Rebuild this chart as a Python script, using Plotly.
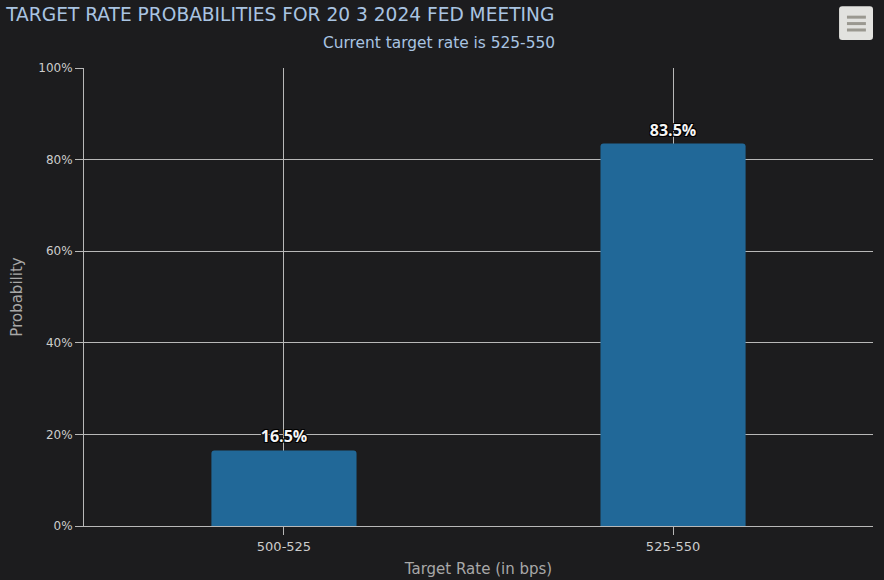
import plotly.graph_objects as go

categories = ["500-525", "525-550"]
probabilities = [16.5, 83.5]
bar_labels = ["16.5%", "83.5%"]
y_ticks = [0, 20, 40, 60, 80, 100]
y_tick_labels = ["0%", "20%", "40%", "60%", "80%", "100%"]

BG = "#1c1c1e"
GRID = "#b8b8b8"
FONT = "DejaVu Sans"

fig = go.Figure()
fig.add_trace(go.Bar(
    x=categories, y=probabilities, text=bar_labels,
    textposition="outside", cliponaxis=False,
    marker=dict(color="#216898", line=dict(width=0), cornerradius=3),
    width=0.373,
    textfont=dict(family="Open Sans", size=16, color="#f4f4f4", weight="bold",
                  shadow="1px 1px 0 #000, -1px -1px 0 #000, 1px -1px 0 #000, -1px 1px 0 #000"),
    hoverinfo="skip",
))

fig.update_layout(
    width=884, height=580,
    paper_bgcolor=BG, plot_bgcolor=BG,
    margin=dict(l=84, r=11, t=68, b=54),
    showlegend=False,
    font=dict(family=FONT, color="#cccccc"),
    title=dict(text="TARGET RATE PROBABILITIES FOR 20 3 2024 FED MEETING",
               x=0.007, xanchor="left", y=0.975, yanchor="middle",
               font=dict(size=18.6, color="#a9c4e2", family=FONT)),
    xaxis=dict(type="category", range=[-0.514, 1.514],
               showgrid=True, gridcolor=GRID, gridwidth=1,
               ticks="outside", ticklen=8, tickcolor=GRID,
               showline=True, linecolor=GRID, linewidth=1,
               tickfont=dict(size=13, color="#cccccc"),
               title=dict(text="Target Rate (in bps)", standoff=10,
                          font=dict(size=15, color="#a8a8a8")),
               automargin=False, fixedrange=True),
    yaxis=dict(range=[0, 100], tickvals=y_ticks, ticktext=y_tick_labels,
               showgrid=True, gridcolor=GRID, gridwidth=1,
               ticks="outside", ticklen=8, tickcolor=GRID,
               showline=True, linecolor=GRID, linewidth=1,
               zeroline=False,
               tickfont=dict(size=12, color="#cccccc"),
               title=dict(text="Probability", standoff=12,
                          font=dict(size=15, color="#a8a8a8")),
               automargin=False, fixedrange=True),
    annotations=[dict(text="Current target rate is 525-550", xref="paper", yref="paper",
                      x=(439 - 84) / 789, y=1.0, yanchor="middle", xanchor="center",
                      yshift=25, showarrow=False,
                      font=dict(size=15.4, color="#a9c4e2", family=FONT))],
    shapes=[
        dict(type="path", xref="paper", yref="paper", layer="above",
             path="M 0.957 1.128 L 0.957 1.068 Q 0.957 1.061 0.961 1.061 L 0.996 1.061 Q 1.0 1.061 1.0 1.068 L 1.0 1.128 Q 1.0 1.135 0.996 1.135 L 0.961 1.135 Q 0.957 1.135 0.957 1.128 Z",
             fillcolor="#e2e2df", line=dict(width=0)),
    ] + [
        dict(type="line", xref="paper", yref="paper", layer="above",
             x0=0.967, x1=0.991, y0=yv, y1=yv,
             line=dict(color="#9a9890", width=3))
        for yv in (1.111, 1.097, 1.083)
    ],
)

fig.write_html("out.html", config={"displayModeBar": False},
               post_script="document.body.style.margin='0';")
